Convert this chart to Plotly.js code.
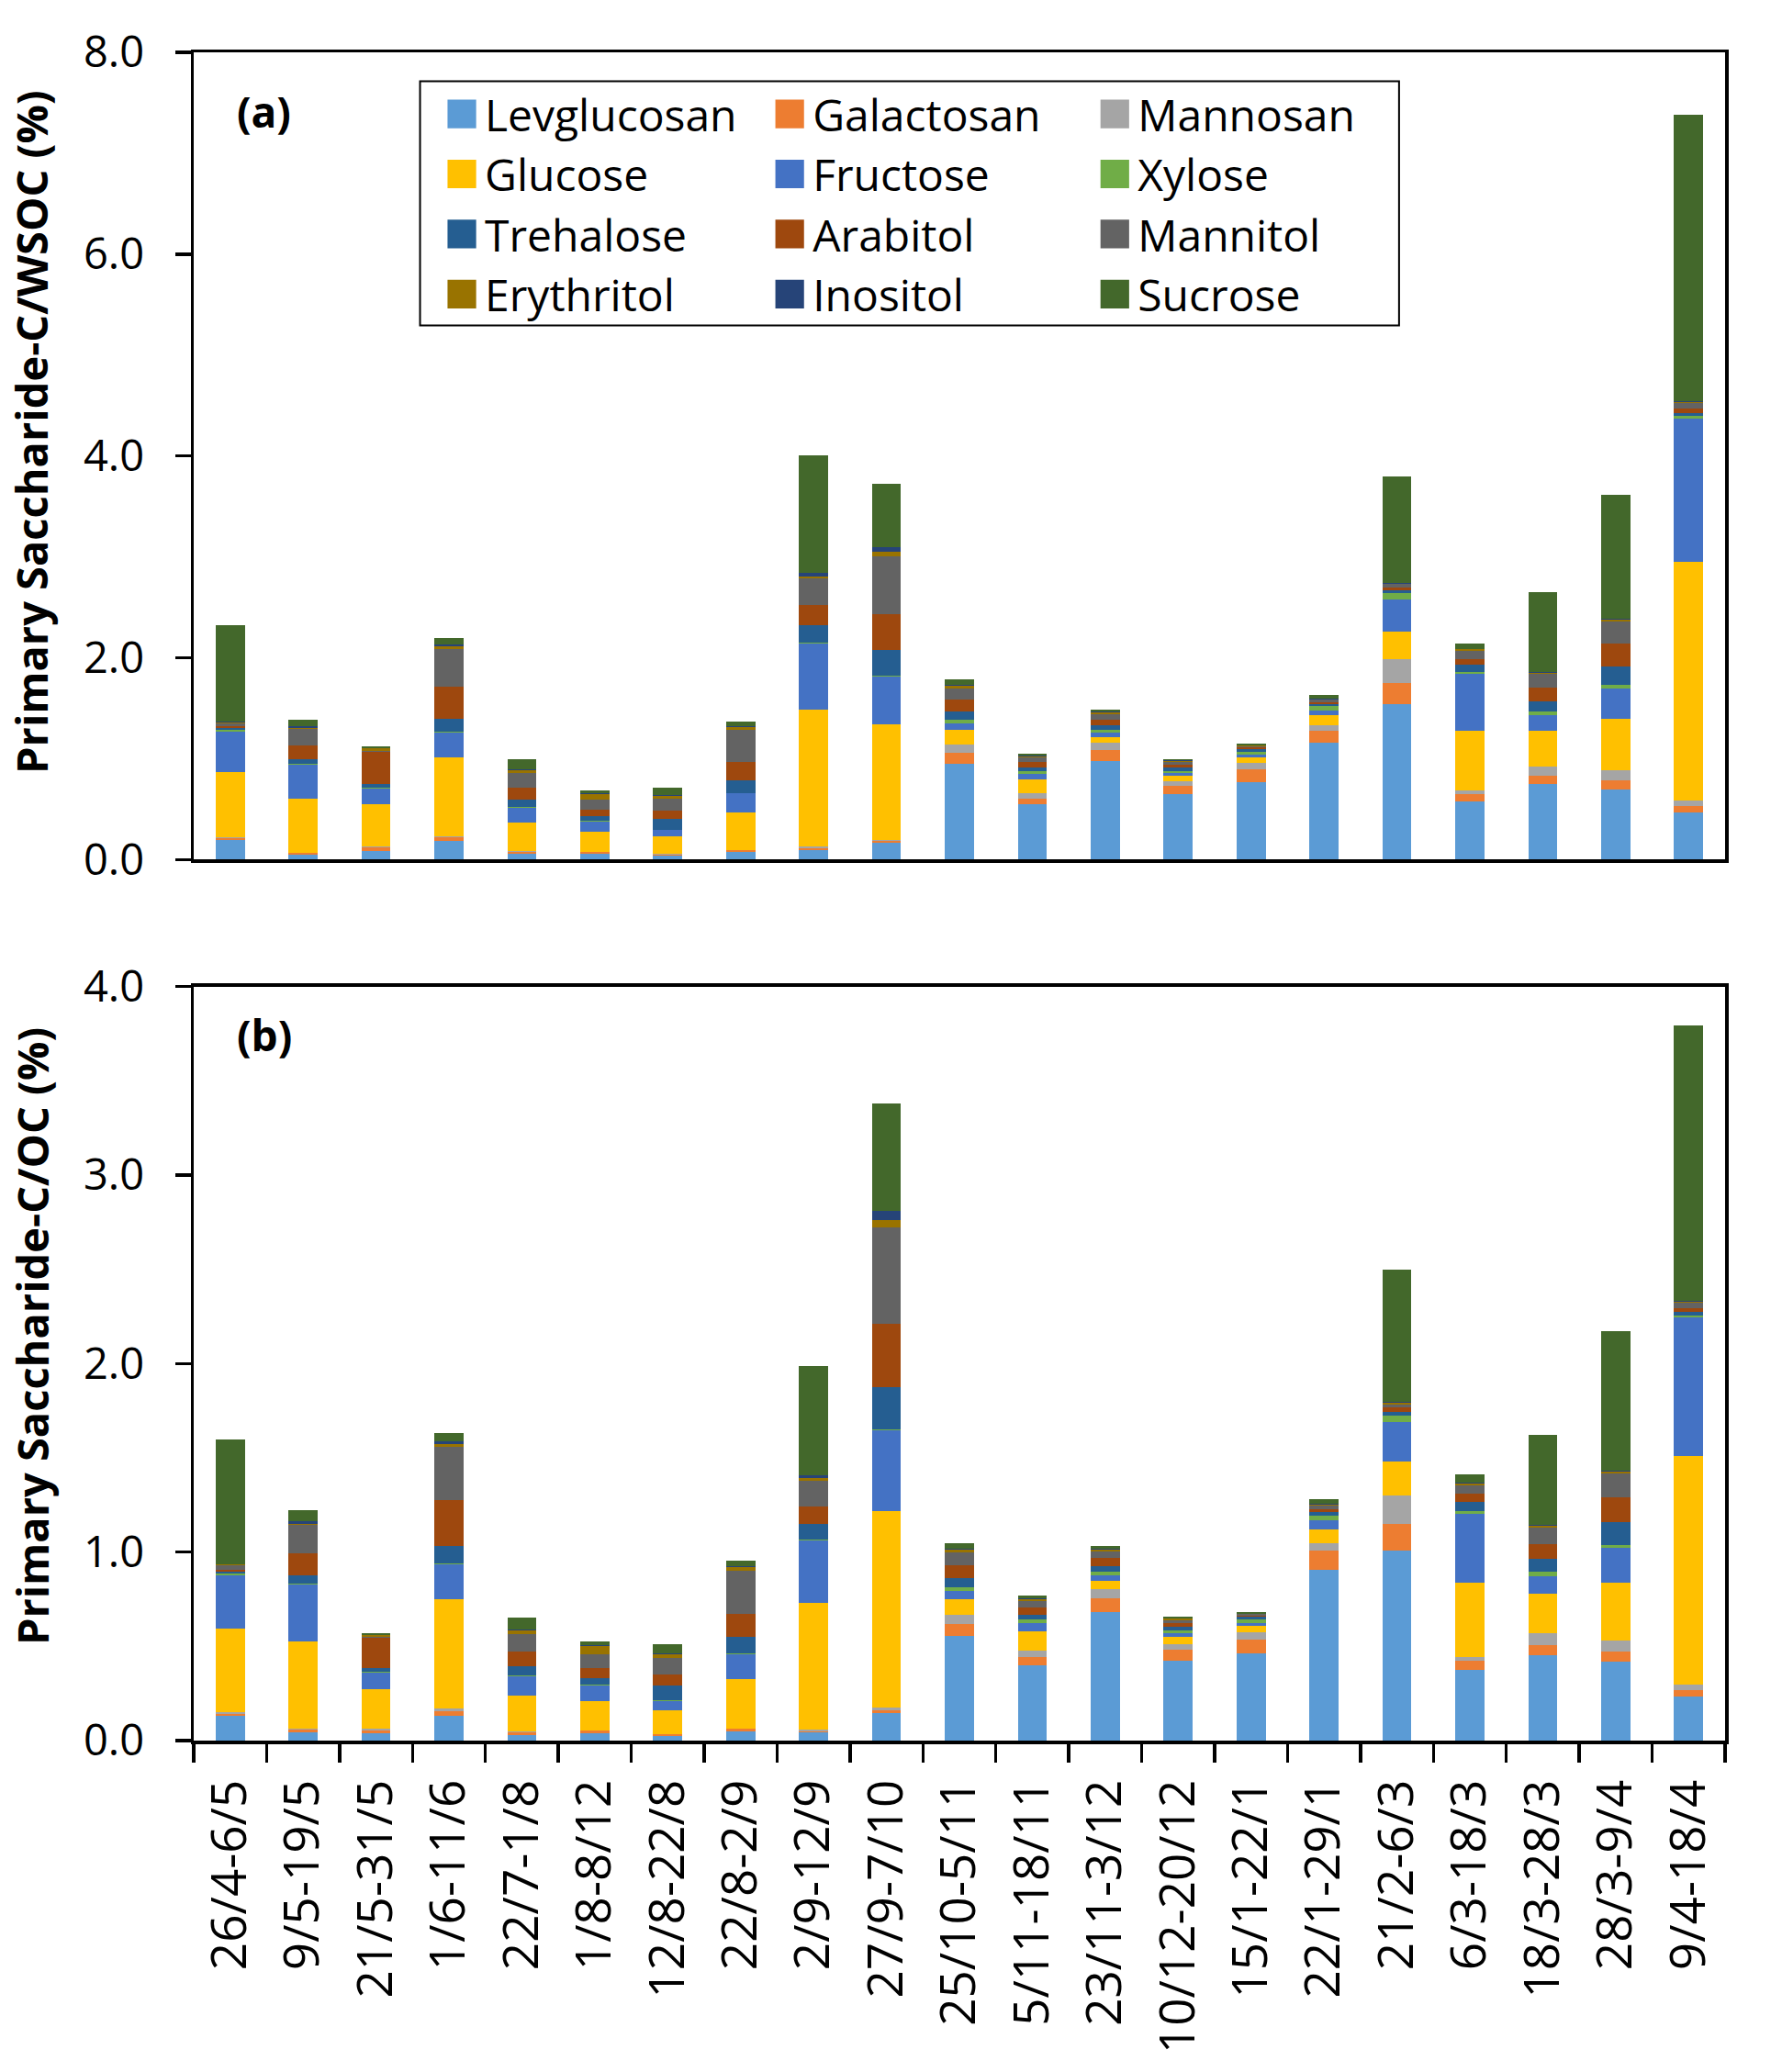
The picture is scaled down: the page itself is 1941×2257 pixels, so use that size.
<!DOCTYPE html>
<html>
<head>
<meta charset="utf-8">
<script src="https://cdn.plot.ly/plotly-3.0.1.min.js"></script>
<style>
  html, body { margin: 0; padding: 0; background: #ffffff; }
  #chart { width: 1941px; height: 2257px; }
</style>
</head>
<body>
<div id="chart"></div>
<script>
// ---------- categories (sampling periods) ----------
const periods = ["26/4-6/5","9/5-19/5","21/5-31/5","1/6-11/6","22/7-1/8","1/8-8/12","12/8-22/8","22/8-2/9","2/9-12/9","27/9-7/10","25/10-5/11","5/11-18/11","23/11-3/12","10/12-20/12","15/1-22/1","22/1-29/1","21/2-6/3","6/3-18/3","18/3-28/3","28/3-9/4","9/4-18/4"];

const species = ["Levglucosan","Galactosan","Mannosan","Glucose","Fructose","Xylose","Trehalose","Arabitol","Mannitol","Erythritol","Inositol","Sucrose"];
const colors  = ["#5B9BD5","#ED7D31","#A5A5A5","#FFC000","#4472C4","#70AD47","#255E91","#9E480E","#636363","#997300","#264478","#43682B"];

// ---------- (a) Primary saccharide-C / WSOC (%) ----------
const levoWSOC  = [0.194,0.051,0.085,0.185,0.057,0.057,0.039,0.076,0.091,0.167,0.950,0.549,0.980,0.652,0.768,1.159,1.538,0.579,0.749,0.699,0.470];
const galaWSOC  = [0.021,0.018,0.036,0.036,0.019,0.019,0.009,0.018,0.024,0.018,0.109,0.055,0.107,0.079,0.127,0.120,0.215,0.070,0.085,0.090,0.060];
const mannoWSOC = [0.006,0.003,0.009,0.012,0.009,0.000,0.009,0.000,0.012,0.012,0.085,0.054,0.072,0.046,0.064,0.055,0.230,0.040,0.090,0.100,0.060];
const glucWSOC  = [0.647,0.532,0.419,0.781,0.282,0.200,0.173,0.373,1.360,1.145,0.143,0.137,0.055,0.055,0.055,0.100,0.280,0.590,0.355,0.510,2.358];
const frucWSOC  = [0.401,0.337,0.155,0.245,0.146,0.100,0.064,0.191,0.659,0.473,0.064,0.055,0.046,0.027,0.027,0.045,0.319,0.559,0.155,0.299,1.419];
const xyloWSOC  = [0.018,0.009,0.009,0.009,0.009,0.009,0.003,0.004,0.009,0.005,0.036,0.027,0.027,0.018,0.027,0.044,0.060,0.020,0.030,0.030,0.030];
const treWSOC   = [0.018,0.045,0.034,0.128,0.073,0.046,0.109,0.128,0.173,0.258,0.085,0.036,0.046,0.036,0.028,0.020,0.025,0.070,0.109,0.190,0.030];
const araWSOC   = [0.018,0.137,0.321,0.319,0.118,0.064,0.082,0.182,0.197,0.357,0.115,0.055,0.054,0.028,0.018,0.020,0.030,0.060,0.130,0.220,0.040];
const mannitWSOC= [0.028,0.164,0.009,0.373,0.146,0.100,0.119,0.310,0.258,0.569,0.110,0.048,0.055,0.027,0.012,0.020,0.035,0.080,0.140,0.220,0.060];
const eryWSOC   = [0.004,0.012,0.028,0.028,0.027,0.054,0.027,0.036,0.025,0.046,0.027,0.009,0.018,0.009,0.004,0.005,0.005,0.020,0.010,0.020,0.010];
const inoWSOC   = [0.009,0.015,0.003,0.018,0.009,0.009,0.009,0.004,0.036,0.048,0.004,0.010,0.009,0.005,0.003,0.004,0.004,0.002,0.010,0.010,0.003];
const sucWSOC   = [0.956,0.064,0.018,0.064,0.100,0.028,0.073,0.046,1.166,0.626,0.055,0.015,0.018,0.013,0.015,0.040,1.060,0.055,0.784,1.223,2.840];

// ---------- (b) Primary saccharide-C / OC (%) ----------
const levoOC  = [0.130,0.044,0.041,0.133,0.031,0.041,0.025,0.051,0.045,0.145,0.553,0.399,0.680,0.426,0.462,0.905,1.006,0.377,0.453,0.418,0.236];
const galaOC  = [0.011,0.012,0.013,0.024,0.013,0.013,0.009,0.013,0.005,0.018,0.064,0.045,0.077,0.055,0.073,0.104,0.141,0.046,0.055,0.055,0.031];
const mannoOC = [0.008,0.005,0.007,0.012,0.007,0.000,0.000,0.000,0.007,0.014,0.049,0.034,0.045,0.031,0.041,0.037,0.151,0.020,0.060,0.060,0.030];
const glucOC  = [0.446,0.465,0.214,0.583,0.190,0.157,0.128,0.261,0.673,1.038,0.082,0.100,0.043,0.037,0.031,0.076,0.181,0.395,0.212,0.305,1.212];
const frucOC  = [0.282,0.300,0.086,0.184,0.098,0.081,0.049,0.132,0.333,0.431,0.045,0.045,0.030,0.020,0.014,0.045,0.211,0.367,0.090,0.183,0.734];
const xyloOC  = [0.010,0.005,0.005,0.005,0.006,0.005,0.002,0.005,0.005,0.007,0.018,0.021,0.020,0.016,0.020,0.028,0.033,0.013,0.025,0.015,0.010];
const treOC   = [0.011,0.044,0.019,0.093,0.050,0.033,0.079,0.090,0.083,0.224,0.050,0.022,0.030,0.018,0.014,0.017,0.022,0.050,0.071,0.121,0.021];
const araOC   = [0.010,0.118,0.158,0.240,0.079,0.054,0.059,0.122,0.093,0.333,0.068,0.041,0.045,0.020,0.009,0.015,0.021,0.040,0.075,0.131,0.020];
const mannitOC= [0.022,0.151,0.008,0.282,0.092,0.073,0.089,0.226,0.132,0.514,0.068,0.032,0.032,0.016,0.007,0.020,0.017,0.045,0.091,0.130,0.030];
const eryOC   = [0.003,0.005,0.010,0.018,0.019,0.045,0.019,0.020,0.016,0.037,0.016,0.009,0.011,0.007,0.003,0.005,0.008,0.010,0.008,0.010,0.005];
const inoOC   = [0.003,0.016,0.000,0.015,0.005,0.005,0.005,0.005,0.013,0.049,0.007,0.005,0.007,0.003,0.000,0.003,0.005,0.005,0.003,0.005,0.005];
const sucOC   = [0.662,0.059,0.009,0.044,0.064,0.019,0.049,0.029,0.581,0.567,0.025,0.015,0.011,0.006,0.009,0.028,0.704,0.043,0.479,0.738,1.459];

const seriesWSOC = [levoWSOC,galaWSOC,mannoWSOC,glucWSOC,frucWSOC,xyloWSOC,treWSOC,araWSOC,mannitWSOC,eryWSOC,inoWSOC,sucWSOC];
const seriesOC   = [levoOC,galaOC,mannoOC,glucOC,frucOC,xyloOC,treOC,araOC,mannitOC,eryOC,inoOC,sucOC];

const yTitleA = "Primary Saccharide-C/WSOC (%)";
const yTitleB = "Primary Saccharide-C/OC (%)";

const FONT = "Open Sans, Lato, sans-serif";
const legendIds = ["legend","legend2","legend3"];

const traces = [];
species.forEach((name, i) => {
  traces.push({
    type: "bar", name: name, x: periods, y: seriesWSOC[i],
    xaxis: "x", yaxis: "y",
    marker: {color: colors[i], line: {width: 0}},
    legend: legendIds[i % 3],
    hoverinfo: "name+y"
  });
});
species.forEach((name, i) => {
  traces.push({
    type: "bar", name: name, x: periods, y: seriesOC[i],
    xaxis: "x2", yaxis: "y2",
    marker: {color: colors[i], line: {width: 0}},
    showlegend: false,
    hoverinfo: "name+y"
  });
});

const axisLine = {showline: true, linecolor: "#000", linewidth: 3.5, mirror: true, showgrid: false, zeroline: false};
const legendBase = {
  orientation: "v", xanchor: "left", yanchor: "top",
  bgcolor: "rgba(0,0,0,0)", borderwidth: 0,
  font: {family: FONT, size: 48, color: "#000"},
  traceorder: "normal", itemwidth: 40, itemclick: false, itemdoubleclick: false
};
const titleFont = {family: FONT, size: 47, color: "#000", weight: "bold"};

const layout = {
  width: 1941, height: 2257,
  margin: {l: 211, r: 62, t: 57, b: 361},
  paper_bgcolor: "#fff", plot_bgcolor: "#fff",
  barmode: "stack", bargap: 0.6,
  font: {family: FONT, color: "#000"},
  xaxis: Object.assign({}, axisLine, {
    domain: [0, 1], anchor: "y", type: "category", range: [-0.5, 20.5],
    showticklabels: false, ticks: ""
  }),
  yaxis: Object.assign({}, axisLine, {
    domain: [0.5218, 1], anchor: "x", range: [0, 8], dtick: 2, tick0: 0, tickformat: ".1f",
    ticks: "outside", ticklen: 17, tickwidth: 3.5, tickcolor: "#000",
    tickfont: {family: FONT, size: 47, color: "#000"}, ticklabelstandoff: 24
  }),
  xaxis2: Object.assign({}, axisLine, {
    domain: [0, 1], anchor: "y2", type: "category", range: [-0.5, 20.5],
    ticks: "outside", tickson: "boundaries", ticklen: 20, tickwidth: 3.5, tickcolor: "#000",
    tickangle: -90, tickfont: {family: FONT, size: 53, color: "#000"}, ticklabelstandoff: 18
  }),
  yaxis2: Object.assign({}, axisLine, {
    domain: [0, 0.4467], anchor: "x2", range: [0, 4], dtick: 1, tick0: 0, tickformat: ".1f",
    ticks: "outside", ticklen: 17, tickwidth: 3.5, tickcolor: "#000",
    tickfont: {family: FONT, size: 47, color: "#000"}, ticklabelstandoff: 24
  }),
  legend:  Object.assign({}, legendBase, {x: 0.1601, y: 0.9840}),
  legend2: Object.assign({}, legendBase, {x: 0.3742, y: 0.9840}),
  legend3: Object.assign({}, legendBase, {x: 0.5865, y: 0.9840}),
  shapes: [{
    type: "rect", xref: "paper", yref: "paper",
    x0: 0.1478, x1: 0.7871, y0: 0.8382, y1: 0.9829,
    line: {color: "#000", width: 2}, fillcolor: "rgba(0,0,0,0)", layer: "above"
  }],
  annotations: [
    {text: "(a)", xref: "paper", yref: "paper", x: 0.0267, y: 0.965, xanchor: "left", yanchor: "middle",
     showarrow: false, font: {family: FONT, size: 46, color: "#000", weight: "bold"}},
    {text: "(b)", xref: "paper", yref: "paper", x: 0.0267, y: 0.4184, xanchor: "left", yanchor: "middle",
     showarrow: false, font: {family: FONT, size: 46, color: "#000", weight: "bold"}},
    {text: yTitleA, xref: "paper", yref: "paper", x: -0.1058, y: 0.7752, xanchor: "center", yanchor: "middle",
     textangle: -90, showarrow: false, font: titleFont},
    {text: yTitleB, xref: "paper", yref: "paper", x: -0.1058, y: 0.2395, xanchor: "center", yanchor: "middle",
     textangle: -90, showarrow: false, font: titleFont}
  ],
  showlegend: true
};

function enlargeLegendKeys() {
  document.querySelectorAll("#chart .legendpoints path").forEach(p => {
    if (p.dataset.scaled) return;
    const t = p.getAttribute("transform") || "";
    p.setAttribute("transform", t + " scale(2.6)");
    p.dataset.scaled = "1";
  });
}

Plotly.newPlot("chart", traces, layout, {staticPlot: true, displayModeBar: false}).then(enlargeLegendKeys);
</script>
</body>
</html>
